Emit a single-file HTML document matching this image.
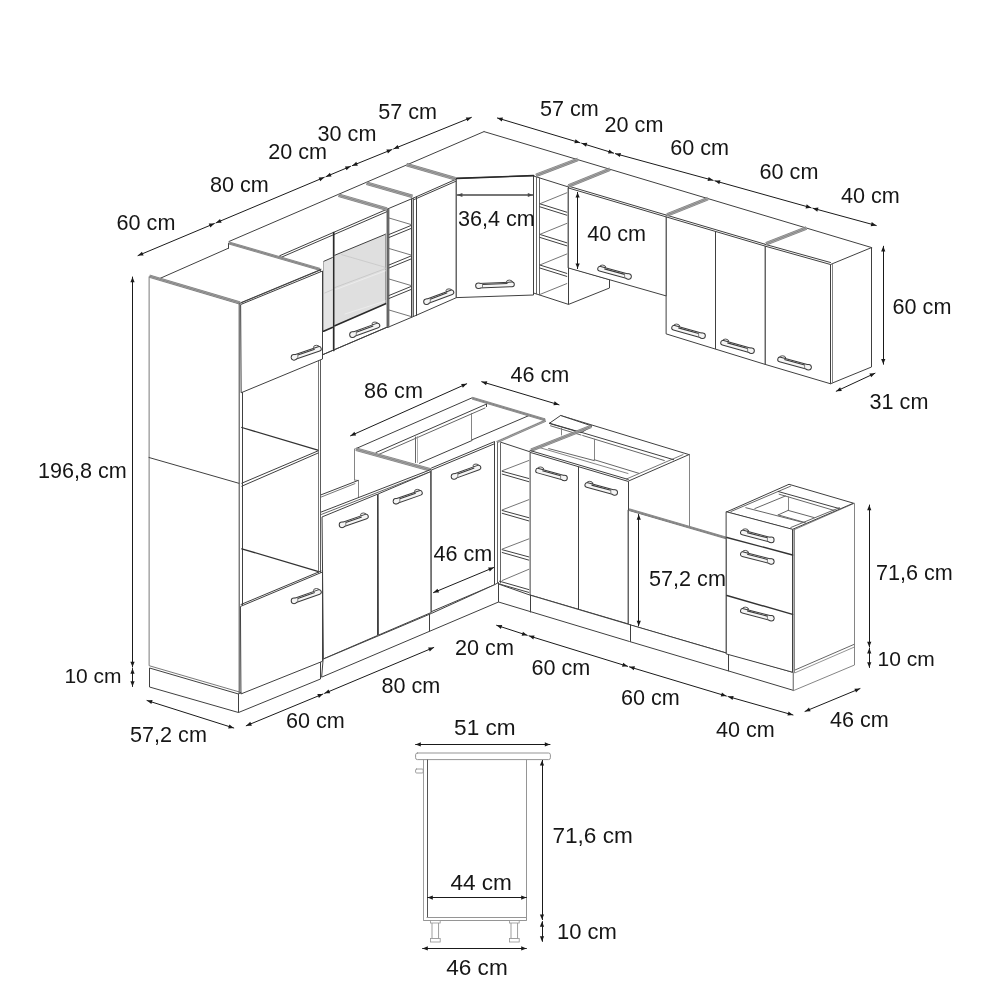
<!DOCTYPE html>
<html lang="en"><head><meta charset="utf-8"><title>Kitchen dimensions</title>
<style>
html,body{margin:0;padding:0;background:#fff;}
body{width:1000px;height:1000px;overflow:hidden;}
svg{display:block;will-change:transform;}
text{font-family:"Liberation Sans",Arial,Helvetica,sans-serif;fill:#161616;}
</style></head><body>
<svg width="1000" height="1000" viewBox="0 0 1000 1000" stroke-linecap="round">
<rect width="1000" height="1000" fill="#ffffff"/>
<line x1="138.00" y1="255.60" x2="214.37" y2="223.55" stroke="#1a1a1a" stroke-width="1.0" />
<path d="M138.00 255.60 L141.98 251.65 L143.61 255.52 Z" fill="#1a1a1a"/>
<path d="M214.37 223.55 L210.39 227.50 L208.76 223.62 Z" fill="#1a1a1a"/>
<line x1="216.03" y1="222.85" x2="324.27" y2="177.35" stroke="#1a1a1a" stroke-width="1.0" />
<path d="M216.03 222.85 L220.01 218.90 L221.64 222.77 Z" fill="#1a1a1a"/>
<path d="M324.27 177.35 L320.29 181.30 L318.66 177.43 Z" fill="#1a1a1a"/>
<line x1="325.93" y1="176.65" x2="350.57" y2="166.35" stroke="#1a1a1a" stroke-width="1.0" />
<path d="M325.93 176.65 L329.92 172.71 L331.54 176.58 Z" fill="#1a1a1a"/>
<path d="M350.57 166.35 L346.58 170.29 L344.96 166.42 Z" fill="#1a1a1a"/>
<line x1="352.23" y1="165.66" x2="391.97" y2="149.54" stroke="#1a1a1a" stroke-width="1.0" />
<path d="M352.23 165.66 L356.26 161.76 L357.84 165.65 Z" fill="#1a1a1a"/>
<path d="M391.97 149.54 L387.94 153.44 L386.36 149.55 Z" fill="#1a1a1a"/>
<line x1="393.63" y1="148.86" x2="471.40" y2="117.40" stroke="#1a1a1a" stroke-width="1.0" />
<path d="M393.63 148.86 L397.67 144.97 L399.24 148.86 Z" fill="#1a1a1a"/>
<path d="M471.40 117.40 L467.37 121.30 L465.79 117.40 Z" fill="#1a1a1a"/>
<line x1="497.40" y1="118.00" x2="579.94" y2="142.74" stroke="#1a1a1a" stroke-width="1.0" />
<path d="M497.40 118.00 L502.98 117.48 L501.78 121.50 Z" fill="#1a1a1a"/>
<path d="M579.94 142.74 L574.35 143.26 L575.56 139.24 Z" fill="#1a1a1a"/>
<line x1="581.66" y1="143.27" x2="613.64" y2="153.13" stroke="#1a1a1a" stroke-width="1.0" />
<path d="M581.66 143.27 L587.25 142.79 L586.01 146.81 Z" fill="#1a1a1a"/>
<path d="M613.64 153.13 L608.05 153.61 L609.29 149.59 Z" fill="#1a1a1a"/>
<line x1="615.37" y1="153.64" x2="713.13" y2="180.36" stroke="#1a1a1a" stroke-width="1.0" />
<path d="M615.37 153.64 L620.94 152.98 L619.83 157.03 Z" fill="#1a1a1a"/>
<path d="M713.13 180.36 L707.56 181.02 L708.67 176.97 Z" fill="#1a1a1a"/>
<line x1="714.87" y1="180.84" x2="811.13" y2="207.76" stroke="#1a1a1a" stroke-width="1.0" />
<path d="M714.87 180.84 L720.44 180.22 L719.31 184.26 Z" fill="#1a1a1a"/>
<path d="M811.13 207.76 L805.56 208.38 L806.69 204.34 Z" fill="#1a1a1a"/>
<line x1="812.87" y1="208.24" x2="876.25" y2="225.50" stroke="#1a1a1a" stroke-width="1.0" />
<path d="M812.87 208.24 L818.44 207.58 L817.33 211.63 Z" fill="#1a1a1a"/>
<path d="M876.25 225.50 L870.68 226.16 L871.78 222.11 Z" fill="#1a1a1a"/>
<line x1="132.50" y1="277.00" x2="132.50" y2="667.00" stroke="#1a1a1a" stroke-width="1.0" />
<path d="M132.50 277.00 L134.60 282.20 L130.40 282.20 Z" fill="#1a1a1a"/>
<path d="M132.50 667.00 L130.40 661.80 L134.60 661.80 Z" fill="#1a1a1a"/>
<line x1="132.50" y1="668.50" x2="132.50" y2="686.50" stroke="#1a1a1a" stroke-width="1.0" />
<path d="M132.50 668.50 L134.60 673.70 L130.40 673.70 Z" fill="#1a1a1a"/>
<path d="M132.50 686.50 L130.40 681.30 L134.60 681.30 Z" fill="#1a1a1a"/>
<line x1="147.00" y1="700.50" x2="233.75" y2="728.00" stroke="#1a1a1a" stroke-width="1.0" />
<path d="M147.00 700.50 L152.59 700.07 L151.32 704.07 Z" fill="#1a1a1a"/>
<path d="M233.75 728.00 L228.16 728.43 L229.43 724.43 Z" fill="#1a1a1a"/>
<line x1="246.25" y1="725.75" x2="322.92" y2="694.04" stroke="#1a1a1a" stroke-width="1.0" />
<path d="M246.25 725.75 L250.25 721.82 L251.86 725.70 Z" fill="#1a1a1a"/>
<path d="M322.92 694.04 L318.92 697.97 L317.31 694.09 Z" fill="#1a1a1a"/>
<line x1="324.58" y1="693.35" x2="433.75" y2="647.50" stroke="#1a1a1a" stroke-width="1.0" />
<path d="M324.58 693.35 L328.56 689.40 L330.19 693.27 Z" fill="#1a1a1a"/>
<path d="M433.75 647.50 L429.77 651.45 L428.14 647.58 Z" fill="#1a1a1a"/>
<line x1="496.60" y1="625.30" x2="527.24" y2="635.32" stroke="#1a1a1a" stroke-width="1.0" />
<path d="M496.60 625.30 L502.20 624.92 L500.89 628.91 Z" fill="#1a1a1a"/>
<path d="M527.24 635.32 L521.65 635.70 L522.95 631.71 Z" fill="#1a1a1a"/>
<line x1="528.96" y1="635.87" x2="627.64" y2="666.33" stroke="#1a1a1a" stroke-width="1.0" />
<path d="M528.96 635.87 L534.55 635.39 L533.31 639.41 Z" fill="#1a1a1a"/>
<path d="M627.64 666.33 L622.05 666.81 L623.29 662.79 Z" fill="#1a1a1a"/>
<line x1="629.36" y1="666.86" x2="726.34" y2="696.04" stroke="#1a1a1a" stroke-width="1.0" />
<path d="M629.36 666.86 L634.95 666.35 L633.74 670.37 Z" fill="#1a1a1a"/>
<path d="M726.34 696.04 L720.75 696.55 L721.96 692.53 Z" fill="#1a1a1a"/>
<line x1="728.07" y1="696.55" x2="793.00" y2="715.00" stroke="#1a1a1a" stroke-width="1.0" />
<path d="M728.07 696.55 L733.64 695.95 L732.49 699.99 Z" fill="#1a1a1a"/>
<path d="M793.00 715.00 L787.42 715.60 L788.57 711.56 Z" fill="#1a1a1a"/>
<line x1="805.00" y1="711.40" x2="860.00" y2="688.60" stroke="#1a1a1a" stroke-width="1.0" />
<path d="M805.00 711.40 L809.00 707.47 L810.61 711.35 Z" fill="#1a1a1a"/>
<path d="M860.00 688.60 L856.00 692.53 L854.39 688.65 Z" fill="#1a1a1a"/>
<line x1="869.50" y1="505.00" x2="869.50" y2="647.00" stroke="#1a1a1a" stroke-width="1.0" />
<path d="M869.25 505.00 L871.35 510.20 L867.15 510.20 Z" fill="#1a1a1a"/>
<path d="M869.25 647.00 L867.15 641.80 L871.35 641.80 Z" fill="#1a1a1a"/>
<line x1="869.50" y1="648.20" x2="869.50" y2="667.50" stroke="#1a1a1a" stroke-width="1.0" />
<path d="M869.25 648.20 L871.35 653.40 L867.15 653.40 Z" fill="#1a1a1a"/>
<path d="M869.25 667.50 L867.15 662.30 L871.35 662.30 Z" fill="#1a1a1a"/>
<line x1="883.50" y1="246.25" x2="883.50" y2="364.25" stroke="#1a1a1a" stroke-width="1.0" />
<path d="M883.25 246.25 L885.35 251.45 L881.15 251.45 Z" fill="#1a1a1a"/>
<path d="M883.25 364.25 L881.15 359.05 L885.35 359.05 Z" fill="#1a1a1a"/>
<line x1="836.25" y1="391.25" x2="875.00" y2="373.25" stroke="#1a1a1a" stroke-width="1.0" />
<path d="M836.25 391.25 L840.08 387.15 L841.85 390.96 Z" fill="#1a1a1a"/>
<path d="M875.00 373.25 L871.17 377.35 L869.40 373.54 Z" fill="#1a1a1a"/>
<line x1="350.50" y1="435.80" x2="466.70" y2="383.80" stroke="#1a1a1a" stroke-width="1.0" />
<path d="M350.50 435.80 L354.39 431.76 L356.10 435.59 Z" fill="#1a1a1a"/>
<path d="M466.70 383.80 L462.81 387.84 L461.10 384.01 Z" fill="#1a1a1a"/>
<line x1="481.70" y1="381.70" x2="559.00" y2="404.80" stroke="#1a1a1a" stroke-width="1.0" />
<path d="M481.70 381.70 L487.28 381.18 L486.08 385.20 Z" fill="#1a1a1a"/>
<path d="M559.00 404.80 L553.42 405.32 L554.62 401.30 Z" fill="#1a1a1a"/>
<path d="M484.00 131.60 L871.75 247.60 L830.50 264.50 L533.60 175.60 Z" fill="#fff" stroke="none" stroke-width="0" stroke-linejoin="round"/>
<line x1="484.00" y1="131.60" x2="871.75" y2="247.60" stroke="#404040" stroke-width="1.0" />
<path d="M830.50 264.50 L871.50 247.60 L871.50 367.00 L830.50 383.75 Z" fill="#fff" stroke="#404040" stroke-width="1.0" stroke-linejoin="round"/>
<path d="M533.50 176.00 L568.50 187.00 L568.50 304.40 L533.50 293.00 Z" fill="#fff" stroke="#404040" stroke-width="1.0" stroke-linejoin="round"/>
<line x1="536.50" y1="177.00" x2="536.50" y2="293.80" stroke="#555" stroke-width="0.9" />
<line x1="539.50" y1="178.00" x2="539.50" y2="294.80" stroke="#555" stroke-width="0.9" />
<line x1="539.80" y1="203.80" x2="566.80" y2="212.20" stroke="#404040" stroke-width="1.0" />
<line x1="539.80" y1="206.80" x2="566.80" y2="215.20" stroke="#404040" stroke-width="1.0" />
<line x1="539.80" y1="203.80" x2="566.80" y2="192.80" stroke="#666" stroke-width="0.9" />
<line x1="539.80" y1="234.40" x2="566.80" y2="242.80" stroke="#404040" stroke-width="1.0" />
<line x1="539.80" y1="237.40" x2="566.80" y2="245.80" stroke="#404040" stroke-width="1.0" />
<line x1="539.80" y1="234.40" x2="566.80" y2="223.40" stroke="#666" stroke-width="0.9" />
<line x1="539.80" y1="265.00" x2="566.80" y2="273.40" stroke="#404040" stroke-width="1.0" />
<line x1="539.80" y1="268.00" x2="566.80" y2="276.40" stroke="#404040" stroke-width="1.0" />
<line x1="539.80" y1="265.00" x2="566.80" y2="254.00" stroke="#666" stroke-width="0.9" />
<line x1="539.80" y1="294.50" x2="566.80" y2="283.60" stroke="#666" stroke-width="0.9" />
<path d="M568.50 268.00 L568.50 304.40 L609.50 288.00 L609.50 280.00 Z" fill="#fff" stroke="#404040" stroke-width="1.0" stroke-linejoin="round"/>
<path d="M568.50 188.00 L666.50 217.00 L666.50 296.00 L568.50 268.00 Z" fill="#fff" stroke="#404040" stroke-width="1.0" stroke-linejoin="round"/>
<line x1="568.00" y1="186.00" x2="666.00" y2="215.00" stroke="#404040" stroke-width="1.0" />
<line x1="577.50" y1="192.40" x2="577.50" y2="268.60" stroke="#1a1a1a" stroke-width="1.0" />
<path d="M577.60 192.40 L579.70 197.60 L575.50 197.60 Z" fill="#1a1a1a"/>
<path d="M577.60 268.60 L575.50 263.40 L579.70 263.40 Z" fill="#1a1a1a"/>
<ellipse cx="602.53" cy="266.95" rx="3" ry="1.9" fill="#f4f4f4" stroke="#444" stroke-width="0.9"/>
<line x1="600.02" y1="268.77" x2="628.48" y2="276.53" stroke="#3c3c3c" stroke-width="5.6" stroke-linecap="round"/>
<circle cx="628.48" cy="276.53" r="3.3" fill="#3c3c3c"/>
<line x1="600.02" y1="268.77" x2="628.48" y2="276.53" stroke="#f5f5f5" stroke-width="3.6" stroke-linecap="round"/>
<circle cx="628.48" cy="276.53" r="2.3" fill="#f5f5f5"/>
<line x1="604.36" y1="268.85" x2="624.62" y2="274.38" stroke="#3a3a3a" stroke-width="1.1" stroke-linecap="butt"/>
<line x1="624.62" y1="273.08" x2="624.62" y2="277.88" stroke="#666" stroke-width="0.8" stroke-linecap="butt"/>
<path d="M666.50 217.00 L765.50 246.20 L765.50 364.50 L666.50 334.00 Z" fill="#fff" stroke="#404040" stroke-width="1.0" stroke-linejoin="round"/>
<line x1="666.00" y1="215.00" x2="765.00" y2="244.20" stroke="#404040" stroke-width="1.0" />
<line x1="715.50" y1="232.00" x2="715.50" y2="348.60" stroke="#404040" stroke-width="1.0" />
<ellipse cx="676.52" cy="325.97" rx="3" ry="1.9" fill="#f4f4f4" stroke="#444" stroke-width="0.9"/>
<line x1="674.02" y1="327.77" x2="702.48" y2="335.73" stroke="#3c3c3c" stroke-width="5.6" stroke-linecap="round"/>
<circle cx="702.48" cy="335.73" r="3.3" fill="#3c3c3c"/>
<line x1="674.02" y1="327.77" x2="702.48" y2="335.73" stroke="#f5f5f5" stroke-width="3.6" stroke-linecap="round"/>
<circle cx="702.48" cy="335.73" r="2.3" fill="#f5f5f5"/>
<line x1="678.35" y1="327.88" x2="698.63" y2="333.56" stroke="#3a3a3a" stroke-width="1.1" stroke-linecap="butt"/>
<line x1="698.63" y1="332.26" x2="698.63" y2="337.06" stroke="#666" stroke-width="0.8" stroke-linecap="butt"/>
<ellipse cx="725.52" cy="340.97" rx="3" ry="1.9" fill="#f4f4f4" stroke="#444" stroke-width="0.9"/>
<line x1="723.02" y1="342.77" x2="751.48" y2="350.73" stroke="#3c3c3c" stroke-width="5.6" stroke-linecap="round"/>
<circle cx="751.48" cy="350.73" r="3.3" fill="#3c3c3c"/>
<line x1="723.02" y1="342.77" x2="751.48" y2="350.73" stroke="#f5f5f5" stroke-width="3.6" stroke-linecap="round"/>
<circle cx="751.48" cy="350.73" r="2.3" fill="#f5f5f5"/>
<line x1="727.35" y1="342.88" x2="747.63" y2="348.56" stroke="#3a3a3a" stroke-width="1.1" stroke-linecap="butt"/>
<line x1="747.63" y1="347.26" x2="747.63" y2="352.06" stroke="#666" stroke-width="0.8" stroke-linecap="butt"/>
<path d="M765.50 246.25 L830.50 264.50 L830.50 383.75 L765.50 364.50 Z" fill="#fff" stroke="#404040" stroke-width="1.0" stroke-linejoin="round"/>
<line x1="765.00" y1="244.30" x2="830.50" y2="262.50" stroke="#404040" stroke-width="1.0" />
<line x1="832.50" y1="264.00" x2="832.50" y2="383.00" stroke="#777" stroke-width="0.9" />
<ellipse cx="782.53" cy="357.65" rx="3" ry="1.9" fill="#f4f4f4" stroke="#444" stroke-width="0.9"/>
<line x1="780.02" y1="359.47" x2="808.48" y2="367.23" stroke="#3c3c3c" stroke-width="5.6" stroke-linecap="round"/>
<circle cx="808.48" cy="367.23" r="3.3" fill="#3c3c3c"/>
<line x1="780.02" y1="359.47" x2="808.48" y2="367.23" stroke="#f5f5f5" stroke-width="3.6" stroke-linecap="round"/>
<circle cx="808.48" cy="367.23" r="2.3" fill="#f5f5f5"/>
<line x1="784.36" y1="359.55" x2="804.62" y2="365.08" stroke="#3a3a3a" stroke-width="1.1" stroke-linecap="butt"/>
<line x1="804.62" y1="363.78" x2="804.62" y2="368.58" stroke="#666" stroke-width="0.8" stroke-linecap="butt"/>
<line x1="536.00" y1="175.40" x2="578.00" y2="159.40" stroke="#b4b4b4" stroke-width="2.72" stroke-linecap="butt"/>
<line x1="535.52" y1="174.13" x2="577.52" y2="158.13" stroke="#777" stroke-width="0.8" stroke-linecap="butt"/>
<line x1="536.00" y1="175.40" x2="578.00" y2="159.40" stroke="#777" stroke-width="0.8" stroke-linecap="butt"/>
<line x1="536.48" y1="176.67" x2="578.48" y2="160.67" stroke="#777" stroke-width="0.8" stroke-linecap="butt"/>
<line x1="568.50" y1="186.00" x2="610.00" y2="169.20" stroke="#b4b4b4" stroke-width="2.72" stroke-linecap="butt"/>
<line x1="567.99" y1="184.74" x2="609.49" y2="167.94" stroke="#777" stroke-width="0.8" stroke-linecap="butt"/>
<line x1="568.50" y1="186.00" x2="610.00" y2="169.20" stroke="#777" stroke-width="0.8" stroke-linecap="butt"/>
<line x1="569.01" y1="187.26" x2="610.51" y2="170.46" stroke="#777" stroke-width="0.8" stroke-linecap="butt"/>
<line x1="667.00" y1="215.00" x2="708.00" y2="198.60" stroke="#b4b4b4" stroke-width="2.72" stroke-linecap="butt"/>
<line x1="666.49" y1="213.74" x2="707.49" y2="197.34" stroke="#777" stroke-width="0.8" stroke-linecap="butt"/>
<line x1="667.00" y1="215.00" x2="708.00" y2="198.60" stroke="#777" stroke-width="0.8" stroke-linecap="butt"/>
<line x1="667.51" y1="216.26" x2="708.51" y2="199.86" stroke="#777" stroke-width="0.8" stroke-linecap="butt"/>
<line x1="766.00" y1="243.80" x2="806.50" y2="228.00" stroke="#b4b4b4" stroke-width="2.72" stroke-linecap="butt"/>
<line x1="765.51" y1="242.53" x2="806.01" y2="226.73" stroke="#777" stroke-width="0.8" stroke-linecap="butt"/>
<line x1="766.00" y1="243.80" x2="806.50" y2="228.00" stroke="#777" stroke-width="0.8" stroke-linecap="butt"/>
<line x1="766.49" y1="245.07" x2="806.99" y2="229.27" stroke="#777" stroke-width="0.8" stroke-linecap="butt"/>
<path d="M229.00 241.50 L484.00 131.60 L456.60 178.40 L280.00 255.60 Z" fill="#fff" stroke="none" stroke-width="0" stroke-linejoin="round"/>
<line x1="229.00" y1="241.50" x2="484.00" y2="131.60" stroke="#404040" stroke-width="1.0" />
<path d="M280.00 255.60 L387.50 209.00 L387.50 327.00 L322.00 355.00 Z" fill="#fff" stroke="#404040" stroke-width="1.0" stroke-linejoin="round"/>
<line x1="281.00" y1="257.40" x2="387.60" y2="211.40" stroke="#404040" stroke-width="1.0" />
<path d="M334.90 255.20 L385.60 234.20 L385.60 303.80 L334.90 325.80 Z" fill="#dfdfdf" stroke="none" stroke-width="0" stroke-linejoin="round"/>
<path d="M323.60 261.40 L332.30 257.60 L332.30 327.20 L323.60 331.00 Z" fill="#e4e4e4" stroke="none" stroke-width="0" stroke-linejoin="round"/>
<line x1="334.90" y1="255.20" x2="385.60" y2="234.20" stroke="#404040" stroke-width="1.0" />
<line x1="323.60" y1="261.40" x2="332.30" y2="257.60" stroke="#404040" stroke-width="1.0" />
<line x1="385.50" y1="234.20" x2="385.50" y2="303.80" stroke="#888" stroke-width="0.8" />
<line x1="323.50" y1="261.40" x2="323.50" y2="331.00" stroke="#999" stroke-width="0.8" />
<line x1="334.90" y1="325.80" x2="385.60" y2="303.80" stroke="#2a2a2a" stroke-width="1.6" />
<line x1="323.60" y1="331.20" x2="332.30" y2="327.40" stroke="#2a2a2a" stroke-width="1.6" />
<line x1="335.00" y1="287.50" x2="385.40" y2="268.60" stroke="#c4c4c4" stroke-width="0.8" />
<line x1="335.00" y1="289.80" x2="385.40" y2="270.80" stroke="#efefef" stroke-width="0.8" />
<line x1="341.50" y1="254.60" x2="385.00" y2="267.20" stroke="#c6c6c6" stroke-width="0.8" />
<line x1="345.00" y1="314.00" x2="385.40" y2="301.00" stroke="#efefef" stroke-width="0.8" />
<line x1="324.80" y1="293.00" x2="332.20" y2="289.80" stroke="#c4c4c4" stroke-width="0.8" />
<line x1="333.70" y1="232.60" x2="333.70" y2="350.40" stroke="#2a2a2a" stroke-width="1.7" />
<line x1="322.00" y1="355.00" x2="387.60" y2="327.00" stroke="#404040" stroke-width="1.0" />
<ellipse cx="375.03" cy="323.92" rx="3" ry="1.9" fill="#f4f4f4" stroke="#444" stroke-width="0.9"/>
<line x1="352.53" y1="334.67" x2="377.47" y2="325.53" stroke="#3c3c3c" stroke-width="5.6" stroke-linecap="round"/>
<circle cx="352.53" cy="334.67" r="3.3" fill="#3c3c3c"/>
<line x1="352.53" y1="334.67" x2="377.47" y2="325.53" stroke="#f5f5f5" stroke-width="3.6" stroke-linecap="round"/>
<circle cx="352.53" cy="334.67" r="2.3" fill="#f5f5f5"/>
<line x1="373.24" y1="325.98" x2="356.29" y2="332.20" stroke="#3a3a3a" stroke-width="1.1" stroke-linecap="butt"/>
<line x1="356.29" y1="330.90" x2="356.29" y2="335.70" stroke="#666" stroke-width="0.8" stroke-linecap="butt"/>
<path d="M387.50 209.00 L413.50 198.00 L413.50 316.50 L387.50 327.50 Z" fill="#fff" stroke="#404040" stroke-width="1.0" stroke-linejoin="round"/>
<line x1="388.60" y1="209.50" x2="388.60" y2="327.00" stroke="#6a6a6a" stroke-width="1.6" />
<line x1="411.50" y1="199.00" x2="411.50" y2="317.00" stroke="#404040" stroke-width="1.0" />
<line x1="389.00" y1="234.50" x2="411.00" y2="225.50" stroke="#404040" stroke-width="1.0" />
<line x1="389.00" y1="237.50" x2="411.00" y2="228.50" stroke="#404040" stroke-width="1.0" />
<line x1="389.00" y1="218.00" x2="411.00" y2="224.50" stroke="#666" stroke-width="0.9" />
<line x1="389.00" y1="265.00" x2="411.00" y2="256.00" stroke="#404040" stroke-width="1.0" />
<line x1="389.00" y1="268.00" x2="411.00" y2="259.00" stroke="#404040" stroke-width="1.0" />
<line x1="389.00" y1="248.50" x2="411.00" y2="255.00" stroke="#666" stroke-width="0.9" />
<line x1="389.00" y1="295.50" x2="411.00" y2="286.50" stroke="#404040" stroke-width="1.0" />
<line x1="389.00" y1="298.50" x2="411.00" y2="289.50" stroke="#404040" stroke-width="1.0" />
<line x1="389.00" y1="279.00" x2="411.00" y2="285.50" stroke="#666" stroke-width="0.9" />
<line x1="389.00" y1="310.00" x2="411.00" y2="316.50" stroke="#666" stroke-width="0.9" />
<path d="M413.50 198.00 L456.50 179.00 L456.50 297.60 L413.50 316.50 Z" fill="#fff" stroke="#404040" stroke-width="1.0" stroke-linejoin="round"/>
<line x1="416.50" y1="197.00" x2="416.50" y2="315.50" stroke="#404040" stroke-width="1.0" />
<line x1="414.00" y1="199.60" x2="456.00" y2="181.20" stroke="#404040" stroke-width="1.0" />
<ellipse cx="449.03" cy="290.74" rx="3" ry="1.9" fill="#f4f4f4" stroke="#444" stroke-width="0.9"/>
<line x1="426.53" y1="301.68" x2="451.47" y2="292.32" stroke="#3c3c3c" stroke-width="5.6" stroke-linecap="round"/>
<circle cx="426.53" cy="301.68" r="3.3" fill="#3c3c3c"/>
<line x1="426.53" y1="301.68" x2="451.47" y2="292.32" stroke="#f5f5f5" stroke-width="3.6" stroke-linecap="round"/>
<circle cx="426.53" cy="301.68" r="2.3" fill="#f5f5f5"/>
<line x1="447.25" y1="292.80" x2="430.28" y2="299.17" stroke="#3a3a3a" stroke-width="1.1" stroke-linecap="butt"/>
<line x1="430.28" y1="297.87" x2="430.28" y2="302.67" stroke="#666" stroke-width="0.8" stroke-linecap="butt"/>
<line x1="338.50" y1="195.20" x2="387.00" y2="209.20" stroke="#b4b4b4" stroke-width="2.72" stroke-linecap="butt"/>
<line x1="338.88" y1="193.89" x2="387.38" y2="207.89" stroke="#777" stroke-width="0.8" stroke-linecap="butt"/>
<line x1="338.50" y1="195.20" x2="387.00" y2="209.20" stroke="#777" stroke-width="0.8" stroke-linecap="butt"/>
<line x1="338.12" y1="196.51" x2="386.62" y2="210.51" stroke="#777" stroke-width="0.8" stroke-linecap="butt"/>
<line x1="366.50" y1="183.20" x2="412.50" y2="196.40" stroke="#b4b4b4" stroke-width="2.72" stroke-linecap="butt"/>
<line x1="366.88" y1="181.89" x2="412.88" y2="195.09" stroke="#777" stroke-width="0.8" stroke-linecap="butt"/>
<line x1="366.50" y1="183.20" x2="412.50" y2="196.40" stroke="#777" stroke-width="0.8" stroke-linecap="butt"/>
<line x1="366.12" y1="184.51" x2="412.12" y2="197.71" stroke="#777" stroke-width="0.8" stroke-linecap="butt"/>
<line x1="406.50" y1="164.60" x2="455.50" y2="178.80" stroke="#b4b4b4" stroke-width="2.72" stroke-linecap="butt"/>
<line x1="406.88" y1="163.29" x2="455.88" y2="177.49" stroke="#777" stroke-width="0.8" stroke-linecap="butt"/>
<line x1="406.50" y1="164.60" x2="455.50" y2="178.80" stroke="#777" stroke-width="0.8" stroke-linecap="butt"/>
<line x1="406.12" y1="165.91" x2="455.12" y2="180.11" stroke="#777" stroke-width="0.8" stroke-linecap="butt"/>
<path d="M456.50 178.40 L533.50 175.60 L533.50 295.00 L456.50 297.60 Z" fill="#fff" stroke="#404040" stroke-width="1.0" stroke-linejoin="round"/>
<line x1="456.60" y1="178.40" x2="533.60" y2="175.60" stroke="#2a2a2a" stroke-width="1.6" />
<line x1="457.20" y1="195.00" x2="533.00" y2="195.00" stroke="#4a4a4a" stroke-width="1.4" />
<path d="M457.20 195.00 L462.40 192.90 L462.40 197.10 Z" fill="#4a4a4a"/>
<path d="M533.00 195.00 L527.80 197.10 L527.80 192.90 Z" fill="#4a4a4a"/>
<ellipse cx="509.40" cy="281.98" rx="3" ry="1.9" fill="#f4f4f4" stroke="#444" stroke-width="0.9"/>
<line x1="478.50" y1="285.72" x2="512.00" y2="284.38" stroke="#3c3c3c" stroke-width="5.6" stroke-linecap="round"/>
<circle cx="478.50" cy="285.72" r="3.3" fill="#3c3c3c"/>
<line x1="478.50" y1="285.72" x2="512.00" y2="284.38" stroke="#f5f5f5" stroke-width="3.6" stroke-linecap="round"/>
<circle cx="478.50" cy="285.72" r="2.3" fill="#f5f5f5"/>
<line x1="507.50" y1="283.46" x2="482.50" y2="284.46" stroke="#3a3a3a" stroke-width="1.1" stroke-linecap="butt"/>
<line x1="482.50" y1="283.16" x2="482.50" y2="287.96" stroke="#666" stroke-width="0.8" stroke-linecap="butt"/>
<path d="M628.60 481.00 L689.00 454.60 L689.00 526.50 L628.60 509.00 Z" fill="#fff" stroke="none" stroke-width="0" stroke-linejoin="round"/>
<line x1="689.50" y1="454.60" x2="689.50" y2="526.50" stroke="#777" stroke-width="0.9" />
<path d="M500.75 442.00 L560.60 415.50 L689.00 454.60 L628.60 481.00 Z" fill="#fff" stroke="none" stroke-width="0" stroke-linejoin="round"/>
<line x1="560.60" y1="415.50" x2="689.00" y2="454.60" stroke="#404040" stroke-width="1.0" />
<line x1="628.60" y1="481.00" x2="689.00" y2="454.60" stroke="#404040" stroke-width="1.0" />
<line x1="626.50" y1="479.00" x2="683.00" y2="454.60" stroke="#777" stroke-width="1.0" />
<path d="M549.50 423.20 L560.60 415.50 L592.00 426.00 L581.50 432.50 Z" fill="#fff" stroke="#404040" stroke-width="1.0" stroke-linejoin="round"/>
<line x1="549.50" y1="423.20" x2="581.50" y2="432.50" stroke="#404040" stroke-width="1.0" />
<line x1="550.50" y1="425.80" x2="581.00" y2="435.00" stroke="#666" stroke-width="1.0" />
<line x1="561.50" y1="428.30" x2="561.50" y2="435.00" stroke="#777" stroke-width="0.9" />
<line x1="581.85" y1="432.50" x2="673.65" y2="459.70" stroke="#404040" stroke-width="1.0" />
<line x1="582.70" y1="435.50" x2="664.30" y2="460.50" stroke="#666" stroke-width="1.0" />
<line x1="594.50" y1="439.30" x2="594.50" y2="459.70" stroke="#777" stroke-width="0.9" />
<line x1="594.25" y1="459.70" x2="638.80" y2="473.30" stroke="#666" stroke-width="1.0" />
<line x1="548.70" y1="448.60" x2="594.25" y2="460.60" stroke="#666" stroke-width="1.0" />
<line x1="537.50" y1="447.00" x2="628.00" y2="473.50" stroke="#777" stroke-width="0.9" />
<line x1="496.50" y1="441.60" x2="545.50" y2="420.00" stroke="#b4b4b4" stroke-width="2.72" stroke-linecap="butt"/>
<line x1="495.95" y1="440.36" x2="544.95" y2="418.76" stroke="#777" stroke-width="0.8" stroke-linecap="butt"/>
<line x1="496.50" y1="441.60" x2="545.50" y2="420.00" stroke="#777" stroke-width="0.8" stroke-linecap="butt"/>
<line x1="497.05" y1="442.84" x2="546.05" y2="421.24" stroke="#777" stroke-width="0.8" stroke-linecap="butt"/>
<line x1="531.00" y1="450.20" x2="591.20" y2="426.40" stroke="#b4b4b4" stroke-width="2.56" stroke-linecap="butt"/>
<line x1="530.53" y1="449.01" x2="590.73" y2="425.21" stroke="#777" stroke-width="0.8" stroke-linecap="butt"/>
<line x1="531.00" y1="450.20" x2="591.20" y2="426.40" stroke="#777" stroke-width="0.8" stroke-linecap="butt"/>
<line x1="531.47" y1="451.39" x2="591.67" y2="427.59" stroke="#777" stroke-width="0.8" stroke-linecap="butt"/>
<path d="M494.75 442.00 L530.00 452.50 L530.00 593.50 L494.75 582.50 Z" fill="#fff" stroke="none" stroke-width="0" stroke-linejoin="round"/>
<line x1="494.50" y1="442.00" x2="494.50" y2="582.50" stroke="#404040" stroke-width="1.0" />
<line x1="497.50" y1="442.50" x2="497.50" y2="583.00" stroke="#666" stroke-width="1.0" />
<line x1="500.50" y1="443.00" x2="500.50" y2="583.00" stroke="#666" stroke-width="1.0" />
<line x1="500.75" y1="442.20" x2="530.00" y2="451.80" stroke="#404040" stroke-width="1.0" />
<line x1="502.20" y1="471.30" x2="528.80" y2="478.50" stroke="#404040" stroke-width="1.0" />
<line x1="502.20" y1="474.10" x2="528.80" y2="481.70" stroke="#404040" stroke-width="1.0" />
<line x1="502.20" y1="470.70" x2="528.80" y2="460.50" stroke="#666" stroke-width="0.9" />
<line x1="502.20" y1="510.50" x2="528.80" y2="517.70" stroke="#404040" stroke-width="1.0" />
<line x1="502.20" y1="513.30" x2="528.80" y2="520.90" stroke="#404040" stroke-width="1.0" />
<line x1="502.20" y1="509.90" x2="528.80" y2="499.70" stroke="#666" stroke-width="0.9" />
<line x1="502.20" y1="549.70" x2="528.80" y2="556.90" stroke="#404040" stroke-width="1.0" />
<line x1="502.20" y1="552.50" x2="528.80" y2="560.10" stroke="#404040" stroke-width="1.0" />
<line x1="502.20" y1="549.10" x2="528.80" y2="538.90" stroke="#666" stroke-width="0.9" />
<line x1="502.20" y1="580.50" x2="528.80" y2="569.30" stroke="#666" stroke-width="0.9" />
<line x1="499.40" y1="581.20" x2="528.80" y2="589.60" stroke="#404040" stroke-width="1.0" />
<line x1="499.40" y1="584.00" x2="528.80" y2="592.40" stroke="#404040" stroke-width="1.0" />
<path d="M530.50 452.50 L628.50 481.50 L628.50 624.00 L530.50 595.10 Z" fill="#fff" stroke="#404040" stroke-width="1.0" stroke-linejoin="round"/>
<line x1="530.00" y1="450.50" x2="628.30" y2="479.50" stroke="#404040" stroke-width="1.0" />
<line x1="578.50" y1="467.20" x2="578.50" y2="609.40" stroke="#404040" stroke-width="1.0" />
<ellipse cx="540.53" cy="468.86" rx="3" ry="1.9" fill="#f4f4f4" stroke="#444" stroke-width="0.9"/>
<line x1="538.02" y1="470.67" x2="564.48" y2="477.93" stroke="#3c3c3c" stroke-width="5.6" stroke-linecap="round"/>
<circle cx="564.48" cy="477.93" r="3.3" fill="#3c3c3c"/>
<line x1="538.02" y1="470.67" x2="564.48" y2="477.93" stroke="#f5f5f5" stroke-width="3.6" stroke-linecap="round"/>
<circle cx="564.48" cy="477.93" r="2.3" fill="#f5f5f5"/>
<line x1="542.36" y1="470.76" x2="560.62" y2="475.77" stroke="#3a3a3a" stroke-width="1.1" stroke-linecap="butt"/>
<line x1="560.62" y1="474.47" x2="560.62" y2="479.27" stroke="#666" stroke-width="0.8" stroke-linecap="butt"/>
<ellipse cx="589.73" cy="483.24" rx="3" ry="1.9" fill="#f4f4f4" stroke="#444" stroke-width="0.9"/>
<line x1="587.22" y1="485.07" x2="614.68" y2="492.43" stroke="#3c3c3c" stroke-width="5.6" stroke-linecap="round"/>
<circle cx="614.68" cy="492.43" r="3.3" fill="#3c3c3c"/>
<line x1="587.22" y1="485.07" x2="614.68" y2="492.43" stroke="#f5f5f5" stroke-width="3.6" stroke-linecap="round"/>
<circle cx="614.68" cy="492.43" r="2.3" fill="#f5f5f5"/>
<line x1="591.56" y1="485.14" x2="610.82" y2="490.29" stroke="#3a3a3a" stroke-width="1.1" stroke-linecap="butt"/>
<line x1="610.82" y1="488.99" x2="610.82" y2="493.79" stroke="#666" stroke-width="0.8" stroke-linecap="butt"/>
<path d="M628.50 510.00 L726.50 538.20 L726.50 653.00 L628.50 624.50 Z" fill="#fff" stroke="#404040" stroke-width="1.0" stroke-linejoin="round"/>
<line x1="629.00" y1="509.60" x2="727.00" y2="538.20" stroke="#b4b4b4" stroke-width="1.76" stroke-linecap="butt"/>
<line x1="629.25" y1="508.76" x2="727.25" y2="537.36" stroke="#777" stroke-width="0.8" stroke-linecap="butt"/>
<line x1="629.00" y1="509.60" x2="727.00" y2="538.20" stroke="#777" stroke-width="0.8" stroke-linecap="butt"/>
<line x1="628.75" y1="510.44" x2="726.75" y2="539.04" stroke="#777" stroke-width="0.8" stroke-linecap="butt"/>
<line x1="638.50" y1="514.50" x2="638.50" y2="626.00" stroke="#1a1a1a" stroke-width="1.0" />
<path d="M638.75 514.50 L640.85 519.70 L636.65 519.70 Z" fill="#1a1a1a"/>
<path d="M638.75 626.00 L636.65 620.80 L640.85 620.80 Z" fill="#1a1a1a"/>
<path d="M498.50 584.00 L530.00 595.10 L628.75 624.40 L726.25 653.00 L793.50 672.50 L793.50 690.40 L728.00 670.80 L629.50 641.50 L498.50 602.00 Z" fill="#fff" stroke="#404040" stroke-width="1.0" stroke-linejoin="round"/>
<line x1="530.50" y1="595.30" x2="530.50" y2="612.00" stroke="#404040" stroke-width="1.0" />
<line x1="630.50" y1="624.80" x2="630.50" y2="641.50" stroke="#404040" stroke-width="1.0" />
<line x1="728.50" y1="654.50" x2="728.50" y2="670.80" stroke="#404040" stroke-width="1.0" />
<path d="M793.50 530.00 L854.50 503.20 L854.50 665.00 L793.50 690.60 Z" fill="#fff" stroke="#777" stroke-width="0.9" stroke-linejoin="round"/>
<line x1="795.00" y1="670.00" x2="854.00" y2="644.40" stroke="#666" stroke-width="1.0" />
<line x1="795.00" y1="672.80" x2="854.00" y2="647.20" stroke="#888" stroke-width="0.9" />
<path d="M726.90 511.80 L789.00 484.30 L853.50 503.20 L792.60 529.30 Z" fill="#fff" stroke="#404040" stroke-width="1.0" stroke-linejoin="round"/>
<line x1="731.00" y1="511.50" x2="790.80" y2="486.10" stroke="#666" stroke-width="1.0" />
<line x1="778.20" y1="491.50" x2="839.40" y2="508.60" stroke="#404040" stroke-width="1.0" />
<line x1="779.10" y1="494.20" x2="834.00" y2="510.40" stroke="#666" stroke-width="1.0" />
<line x1="754.80" y1="508.60" x2="785.40" y2="496.00" stroke="#666" stroke-width="1.0" />
<line x1="788.50" y1="496.90" x2="788.50" y2="510.40" stroke="#777" stroke-width="0.9" />
<line x1="788.10" y1="510.40" x2="814.20" y2="517.60" stroke="#666" stroke-width="1.0" />
<line x1="778.20" y1="514.90" x2="788.10" y2="510.40" stroke="#666" stroke-width="1.0" />
<line x1="778.20" y1="514.90" x2="805.20" y2="522.60" stroke="#666" stroke-width="1.0" />
<line x1="745.80" y1="507.70" x2="805.20" y2="523.00" stroke="#666" stroke-width="1.0" />
<line x1="790.80" y1="527.50" x2="839.40" y2="507.70" stroke="#666" stroke-width="1.0" />
<path d="M726.50 511.80 L792.50 529.30 L792.50 672.20 L726.50 654.00 Z" fill="#fff" stroke="#404040" stroke-width="1.0" stroke-linejoin="round"/>
<line x1="794.50" y1="529.80" x2="794.50" y2="672.50" stroke="#777" stroke-width="0.9" />
<line x1="726.90" y1="537.50" x2="792.60" y2="555.00" stroke="#333" stroke-width="1.4" />
<line x1="726.90" y1="595.50" x2="792.60" y2="614.40" stroke="#333" stroke-width="1.4" />
<ellipse cx="745.33" cy="530.72" rx="3" ry="1.9" fill="#f4f4f4" stroke="#444" stroke-width="0.9"/>
<line x1="742.82" y1="532.58" x2="771.28" y2="539.92" stroke="#3c3c3c" stroke-width="5.6" stroke-linecap="round"/>
<circle cx="771.28" cy="539.92" r="3.3" fill="#3c3c3c"/>
<line x1="742.82" y1="532.58" x2="771.28" y2="539.92" stroke="#f5f5f5" stroke-width="3.6" stroke-linecap="round"/>
<circle cx="771.28" cy="539.92" r="2.3" fill="#f5f5f5"/>
<line x1="747.17" y1="532.60" x2="767.41" y2="537.83" stroke="#3a3a3a" stroke-width="1.1" stroke-linecap="butt"/>
<line x1="767.41" y1="536.53" x2="767.41" y2="541.33" stroke="#666" stroke-width="0.8" stroke-linecap="butt"/>
<ellipse cx="745.33" cy="552.32" rx="3" ry="1.9" fill="#f4f4f4" stroke="#444" stroke-width="0.9"/>
<line x1="742.82" y1="554.18" x2="771.28" y2="561.52" stroke="#3c3c3c" stroke-width="5.6" stroke-linecap="round"/>
<circle cx="771.28" cy="561.52" r="3.3" fill="#3c3c3c"/>
<line x1="742.82" y1="554.18" x2="771.28" y2="561.52" stroke="#f5f5f5" stroke-width="3.6" stroke-linecap="round"/>
<circle cx="771.28" cy="561.52" r="2.3" fill="#f5f5f5"/>
<line x1="747.17" y1="554.20" x2="767.41" y2="559.43" stroke="#3a3a3a" stroke-width="1.1" stroke-linecap="butt"/>
<line x1="767.41" y1="558.13" x2="767.41" y2="562.93" stroke="#666" stroke-width="0.8" stroke-linecap="butt"/>
<ellipse cx="745.33" cy="609.02" rx="3" ry="1.9" fill="#f4f4f4" stroke="#444" stroke-width="0.9"/>
<line x1="742.82" y1="610.88" x2="771.28" y2="618.22" stroke="#3c3c3c" stroke-width="5.6" stroke-linecap="round"/>
<circle cx="771.28" cy="618.22" r="3.3" fill="#3c3c3c"/>
<line x1="742.82" y1="610.88" x2="771.28" y2="618.22" stroke="#f5f5f5" stroke-width="3.6" stroke-linecap="round"/>
<circle cx="771.28" cy="618.22" r="2.3" fill="#f5f5f5"/>
<line x1="747.17" y1="610.90" x2="767.41" y2="616.13" stroke="#3a3a3a" stroke-width="1.1" stroke-linecap="butt"/>
<line x1="767.41" y1="614.83" x2="767.41" y2="619.63" stroke="#666" stroke-width="0.8" stroke-linecap="butt"/>
<path d="M354.70 449.00 L430.75 470.00 L430.75 471.50 L322.00 517.00 L321.25 494.75 L354.70 481.50 Z" fill="#fff" stroke="none" stroke-width="0" stroke-linejoin="round"/>
<line x1="354.50" y1="449.00" x2="354.50" y2="480.00" stroke="#777" stroke-width="0.9" />
<line x1="354.70" y1="480.00" x2="358.00" y2="480.50" stroke="#777" stroke-width="0.9" />
<line x1="358.50" y1="480.50" x2="358.50" y2="497.50" stroke="#777" stroke-width="0.9" />
<line x1="321.25" y1="494.75" x2="358.00" y2="480.50" stroke="#404040" stroke-width="1.0" />
<line x1="321.25" y1="497.00" x2="355.00" y2="483.60" stroke="#777" stroke-width="1.0" />
<path d="M354.70 449.00 L472.25 397.75 L545.00 419.50 L494.00 442.00 L431.00 470.00 Z" fill="#fff" stroke="none" stroke-width="0" stroke-linejoin="round"/>
<line x1="355.75" y1="448.70" x2="472.25" y2="397.75" stroke="#404040" stroke-width="1.0" />
<line x1="376.00" y1="452.50" x2="485.50" y2="404.50" stroke="#404040" stroke-width="1.0" />
<line x1="377.50" y1="455.00" x2="485.00" y2="408.00" stroke="#666" stroke-width="1.0" />
<line x1="486.50" y1="403.75" x2="486.50" y2="406.60" stroke="#404040" stroke-width="1.0" />
<line x1="415.50" y1="437.00" x2="415.50" y2="462.50" stroke="#666" stroke-width="1.0" />
<line x1="417.50" y1="436.50" x2="417.50" y2="462.50" stroke="#999" stroke-width="0.8" />
<line x1="419.50" y1="463.25" x2="472.00" y2="440.50" stroke="#404040" stroke-width="1.0" />
<line x1="471.50" y1="413.50" x2="471.50" y2="439.75" stroke="#777" stroke-width="0.9" />
<line x1="472.25" y1="439.75" x2="528.50" y2="415.75" stroke="#404040" stroke-width="1.0" />
<line x1="356.00" y1="449.20" x2="430.75" y2="470.00" stroke="#b4b4b4" stroke-width="2.72" stroke-linecap="butt"/>
<line x1="356.36" y1="447.89" x2="431.11" y2="468.69" stroke="#777" stroke-width="0.8" stroke-linecap="butt"/>
<line x1="356.00" y1="449.20" x2="430.75" y2="470.00" stroke="#777" stroke-width="0.8" stroke-linecap="butt"/>
<line x1="355.64" y1="450.51" x2="430.39" y2="471.31" stroke="#777" stroke-width="0.8" stroke-linecap="butt"/>
<line x1="472.25" y1="398.20" x2="545.00" y2="419.80" stroke="#b4b4b4" stroke-width="1.92" stroke-linecap="butt"/>
<line x1="472.52" y1="397.28" x2="545.27" y2="418.88" stroke="#777" stroke-width="0.8" stroke-linecap="butt"/>
<line x1="472.25" y1="398.20" x2="545.00" y2="419.80" stroke="#777" stroke-width="0.8" stroke-linecap="butt"/>
<line x1="471.98" y1="399.12" x2="544.73" y2="420.72" stroke="#777" stroke-width="0.8" stroke-linecap="butt"/>
<path d="M322.00 512.00 L430.75 469.60 L430.75 613.00 L322.00 658.60 Z" fill="#fff" stroke="none" stroke-width="0" stroke-linejoin="round"/>
<line x1="321.25" y1="512.00" x2="430.75" y2="469.60" stroke="#404040" stroke-width="1.0" />
<line x1="321.50" y1="514.40" x2="430.75" y2="471.60" stroke="#666" stroke-width="1.0" />
<path d="M322.40 516.80 L377.50 494.20 L377.50 635.50 L323.75 658.75 Z" fill="#fff" stroke="#404040" stroke-width="1.0" stroke-linejoin="round"/>
<path d="M378.50 493.80 L430.75 471.60 L431.25 612.50 L378.75 635.00 Z" fill="#fff" stroke="#404040" stroke-width="1.0" stroke-linejoin="round"/>
<ellipse cx="363.52" cy="514.89" rx="3" ry="1.9" fill="#f4f4f4" stroke="#444" stroke-width="0.9"/>
<line x1="342.03" y1="524.86" x2="365.97" y2="516.54" stroke="#3c3c3c" stroke-width="5.6" stroke-linecap="round"/>
<circle cx="342.03" cy="524.86" r="3.3" fill="#3c3c3c"/>
<line x1="342.03" y1="524.86" x2="365.97" y2="516.54" stroke="#f5f5f5" stroke-width="3.6" stroke-linecap="round"/>
<circle cx="342.03" cy="524.86" r="2.3" fill="#f5f5f5"/>
<line x1="361.72" y1="516.91" x2="345.81" y2="522.45" stroke="#3a3a3a" stroke-width="1.1" stroke-linecap="butt"/>
<line x1="345.81" y1="521.15" x2="345.81" y2="525.95" stroke="#666" stroke-width="0.8" stroke-linecap="butt"/>
<ellipse cx="417.52" cy="491.29" rx="3" ry="1.9" fill="#f4f4f4" stroke="#444" stroke-width="0.9"/>
<line x1="396.03" y1="501.26" x2="419.97" y2="492.94" stroke="#3c3c3c" stroke-width="5.6" stroke-linecap="round"/>
<circle cx="396.03" cy="501.26" r="3.3" fill="#3c3c3c"/>
<line x1="396.03" y1="501.26" x2="419.97" y2="492.94" stroke="#f5f5f5" stroke-width="3.6" stroke-linecap="round"/>
<circle cx="396.03" cy="501.26" r="2.3" fill="#f5f5f5"/>
<line x1="415.72" y1="493.31" x2="399.81" y2="498.85" stroke="#3a3a3a" stroke-width="1.1" stroke-linecap="butt"/>
<line x1="399.81" y1="497.55" x2="399.81" y2="502.35" stroke="#666" stroke-width="0.8" stroke-linecap="butt"/>
<path d="M431.50 470.00 L494.50 443.75 L494.50 584.80 L431.50 611.60 Z" fill="#fff" stroke="#404040" stroke-width="1.0" stroke-linejoin="round"/>
<line x1="431.50" y1="468.00" x2="494.50" y2="441.60" stroke="#404040" stroke-width="1.0" />
<ellipse cx="476.03" cy="465.92" rx="3" ry="1.9" fill="#f4f4f4" stroke="#444" stroke-width="0.9"/>
<line x1="454.03" y1="476.47" x2="478.47" y2="467.53" stroke="#3c3c3c" stroke-width="5.6" stroke-linecap="round"/>
<circle cx="454.03" cy="476.47" r="3.3" fill="#3c3c3c"/>
<line x1="454.03" y1="476.47" x2="478.47" y2="467.53" stroke="#f5f5f5" stroke-width="3.6" stroke-linecap="round"/>
<circle cx="454.03" cy="476.47" r="2.3" fill="#f5f5f5"/>
<line x1="474.24" y1="467.97" x2="457.79" y2="474.00" stroke="#3a3a3a" stroke-width="1.1" stroke-linecap="butt"/>
<line x1="457.79" y1="472.70" x2="457.79" y2="477.50" stroke="#666" stroke-width="0.8" stroke-linecap="butt"/>
<line x1="433.50" y1="592.60" x2="493.75" y2="567.50" stroke="#1a1a1a" stroke-width="1.0" />
<path d="M433.50 592.60 L437.49 588.66 L439.11 592.54 Z" fill="#1a1a1a"/>
<path d="M493.75 567.50 L489.76 571.44 L488.14 567.56 Z" fill="#1a1a1a"/>
<path d="M323.50 659.00 L431.25 613.50 L495.00 584.50 L498.50 582.50 L498.50 602.00 L322.00 677.00 Z" fill="#fff" stroke="#404040" stroke-width="1.0" stroke-linejoin="round"/>
<line x1="429.50" y1="614.50" x2="429.50" y2="631.00" stroke="#404040" stroke-width="1.0" />
<path d="M149.50 276.60 L239.50 303.60 L239.50 692.00 L149.50 665.80 Z" fill="#fff" stroke="#6a6a6a" stroke-width="0.9" stroke-linejoin="round"/>
<line x1="149.00" y1="457.50" x2="239.60" y2="483.50" stroke="#404040" stroke-width="1.0" />
<path d="M149.00 276.60 L160.00 278.40 L228.00 248.40 L228.00 243.20 L321.50 269.50 L239.60 303.60 Z" fill="#fff" stroke="none" stroke-width="0" stroke-linejoin="round"/>
<line x1="160.00" y1="278.40" x2="228.00" y2="248.40" stroke="#404040" stroke-width="1.0" />
<line x1="228.50" y1="243.20" x2="228.50" y2="248.40" stroke="#404040" stroke-width="1.0" />
<line x1="229.00" y1="243.00" x2="320.00" y2="269.40" stroke="#b4b4b4" stroke-width="2.08" stroke-linecap="butt"/>
<line x1="229.29" y1="242.00" x2="320.29" y2="268.40" stroke="#777" stroke-width="0.8" stroke-linecap="butt"/>
<line x1="229.00" y1="243.00" x2="320.00" y2="269.40" stroke="#777" stroke-width="0.8" stroke-linecap="butt"/>
<line x1="228.71" y1="244.00" x2="319.71" y2="270.40" stroke="#777" stroke-width="0.8" stroke-linecap="butt"/>
<line x1="149.50" y1="276.20" x2="240.00" y2="303.00" stroke="#b4b4b4" stroke-width="2.40" stroke-linecap="butt"/>
<line x1="149.84" y1="275.05" x2="240.34" y2="301.85" stroke="#777" stroke-width="0.8" stroke-linecap="butt"/>
<line x1="149.50" y1="276.20" x2="240.00" y2="303.00" stroke="#777" stroke-width="0.8" stroke-linecap="butt"/>
<line x1="149.16" y1="277.35" x2="239.66" y2="304.15" stroke="#777" stroke-width="0.8" stroke-linecap="butt"/>
<path d="M149.50 668.40 L149.50 687.00 L238.50 712.50 L238.50 694.40 Z" fill="#fff" stroke="#404040" stroke-width="1.0" stroke-linejoin="round"/>
<path d="M238.50 694.00 L238.50 712.50 L320.50 679.00 L320.50 661.00 Z" fill="#fff" stroke="#404040" stroke-width="1.0" stroke-linejoin="round"/>
<path d="M239.50 303.60 L320.50 270.00 L320.50 661.00 L239.50 693.00 Z" fill="#fff" stroke="#4a4a4a" stroke-width="0.9" stroke-linejoin="round"/>
<line x1="242.50" y1="304.00" x2="242.50" y2="693.00" stroke="#404040" stroke-width="1.0" />
<line x1="318.50" y1="358.00" x2="318.50" y2="573.00" stroke="#555" stroke-width="0.8" />
<line x1="241.80" y1="427.50" x2="317.80" y2="450.20" stroke="#333" stroke-width="1.3" />
<line x1="241.80" y1="483.20" x2="318.20" y2="450.80" stroke="#404040" stroke-width="1.0" />
<line x1="241.80" y1="486.20" x2="318.20" y2="453.00" stroke="#404040" stroke-width="1.0" />
<line x1="241.80" y1="548.80" x2="317.80" y2="571.40" stroke="#333" stroke-width="1.3" />
<path d="M241.00 304.40 L322.50 271.00 L322.50 359.00 L241.50 392.60 Z" fill="#fff" stroke="#404040" stroke-width="1.0" stroke-linejoin="round"/>
<line x1="241.00" y1="302.60" x2="321.00" y2="269.40" stroke="#404040" stroke-width="1.0" />
<path d="M240.80 606.30 L322.50 572.00 L322.50 661.30 L241.30 693.80 Z" fill="#fff" stroke="#404040" stroke-width="1.0" stroke-linejoin="round"/>
<line x1="241.00" y1="604.50" x2="321.00" y2="571.00" stroke="#404040" stroke-width="1.0" />
<ellipse cx="316.51" cy="347.18" rx="3" ry="1.9" fill="#f4f4f4" stroke="#444" stroke-width="0.9"/>
<line x1="294.03" y1="357.36" x2="318.97" y2="348.84" stroke="#3c3c3c" stroke-width="5.6" stroke-linecap="round"/>
<circle cx="294.03" cy="357.36" r="3.3" fill="#3c3c3c"/>
<line x1="294.03" y1="357.36" x2="318.97" y2="348.84" stroke="#f5f5f5" stroke-width="3.6" stroke-linecap="round"/>
<circle cx="294.03" cy="357.36" r="2.3" fill="#f5f5f5"/>
<line x1="314.71" y1="349.19" x2="297.81" y2="354.97" stroke="#3a3a3a" stroke-width="1.1" stroke-linecap="butt"/>
<line x1="297.81" y1="353.67" x2="297.81" y2="358.47" stroke="#666" stroke-width="0.8" stroke-linecap="butt"/>
<ellipse cx="316.52" cy="590.40" rx="3" ry="1.9" fill="#f4f4f4" stroke="#444" stroke-width="0.9"/>
<line x1="294.03" y1="600.87" x2="318.97" y2="592.03" stroke="#3c3c3c" stroke-width="5.6" stroke-linecap="round"/>
<circle cx="294.03" cy="600.87" r="3.3" fill="#3c3c3c"/>
<line x1="294.03" y1="600.87" x2="318.97" y2="592.03" stroke="#f5f5f5" stroke-width="3.6" stroke-linecap="round"/>
<circle cx="294.03" cy="600.87" r="2.3" fill="#f5f5f5"/>
<line x1="314.73" y1="592.44" x2="297.80" y2="598.43" stroke="#3a3a3a" stroke-width="1.1" stroke-linecap="butt"/>
<line x1="297.80" y1="597.13" x2="297.80" y2="601.93" stroke="#666" stroke-width="0.8" stroke-linecap="butt"/>
<rect x="415.6" y="753" width="134.8" height="6.6" rx="1.8" ry="1.8" fill="#fff" stroke="#959595" stroke-width="1"/>
<rect x="415.6" y="769" width="7.6" height="4" rx="1" fill="#fff" stroke="#959595" stroke-width="0.9"/>
<line x1="423.50" y1="760.00" x2="423.50" y2="920.00" stroke="#959595" stroke-width="0.9" />
<line x1="427.50" y1="760.00" x2="427.50" y2="917.00" stroke="#555" stroke-width="1" />
<line x1="526.50" y1="760.00" x2="526.50" y2="917.00" stroke="#959595" stroke-width="1" />
<line x1="427.00" y1="917.50" x2="526.40" y2="917.50" stroke="#959595" stroke-width="1" />
<line x1="423.60" y1="920.50" x2="526.40" y2="920.50" stroke="#959595" stroke-width="1" />
<line x1="526.50" y1="917.00" x2="526.50" y2="920.00" stroke="#959595" stroke-width="1" />
<rect x="432.0" y="920.6" width="6.6" height="18" fill="#fff" stroke="#959595" stroke-width="0.9"/>
<rect x="430.4" y="920.6" width="9.8" height="2.4" fill="#fff" stroke="#959595" stroke-width="0.8"/>
<rect x="430.4" y="938.6" width="9.8" height="3.4" fill="#fff" stroke="#959595" stroke-width="0.8"/>
<rect x="511.0" y="920.6" width="6.6" height="18" fill="#fff" stroke="#959595" stroke-width="0.9"/>
<rect x="509.4" y="920.6" width="9.8" height="2.4" fill="#fff" stroke="#959595" stroke-width="0.8"/>
<rect x="509.4" y="938.6" width="9.8" height="3.4" fill="#fff" stroke="#959595" stroke-width="0.8"/>
<line x1="415.60" y1="744.50" x2="550.00" y2="744.50" stroke="#1a1a1a" stroke-width="1.0" />
<path d="M415.60 744.40 L420.80 742.30 L420.80 746.50 Z" fill="#1a1a1a"/>
<path d="M550.00 744.40 L544.80 746.50 L544.80 742.30 Z" fill="#1a1a1a"/>
<line x1="427.60" y1="897.50" x2="526.40" y2="897.50" stroke="#1a1a1a" stroke-width="1.0" />
<path d="M427.60 897.60 L432.80 895.50 L432.80 899.70 Z" fill="#1a1a1a"/>
<path d="M526.40 897.60 L521.20 899.70 L521.20 895.50 Z" fill="#1a1a1a"/>
<line x1="542.50" y1="760.40" x2="542.50" y2="919.60" stroke="#1a1a1a" stroke-width="1.0" />
<path d="M542.00 760.40 L544.10 765.60 L539.90 765.60 Z" fill="#1a1a1a"/>
<path d="M542.00 919.60 L539.90 914.40 L544.10 914.40 Z" fill="#1a1a1a"/>
<line x1="542.50" y1="921.60" x2="542.50" y2="941.40" stroke="#1a1a1a" stroke-width="1.0" />
<path d="M542.00 921.60 L544.10 926.80 L539.90 926.80 Z" fill="#1a1a1a"/>
<path d="M542.00 941.40 L539.90 936.20 L544.10 936.20 Z" fill="#1a1a1a"/>
<line x1="422.60" y1="948.50" x2="526.40" y2="948.50" stroke="#1a1a1a" stroke-width="1.0" />
<path d="M422.60 948.40 L427.80 946.30 L427.80 950.50 Z" fill="#1a1a1a"/>
<path d="M526.40 948.40 L521.20 950.50 L521.20 946.30 Z" fill="#1a1a1a"/>
<text x="116.60" y="229.60" font-size="21.6">60 cm</text>
<text x="210.00" y="191.60" font-size="21.6">80 cm</text>
<text x="268.20" y="158.60" font-size="21.6">20 cm</text>
<text x="317.60" y="141.40" font-size="21.6">30 cm</text>
<text x="378.20" y="119.40" font-size="21.6">57 cm</text>
<text x="540.00" y="115.60" font-size="21.6">57 cm</text>
<text x="604.60" y="132.40" font-size="21.6">20 cm</text>
<text x="670.20" y="155.00" font-size="21.6">60 cm</text>
<text x="759.60" y="178.60" font-size="21.6">60 cm</text>
<text x="841.00" y="202.50" font-size="21.6">40 cm</text>
<text x="892.60" y="313.75" font-size="21.6">60 cm</text>
<text x="869.60" y="408.60" font-size="21.6">31 cm</text>
<text x="458.00" y="225.60" font-size="21.6">36,4 cm</text>
<text x="587.20" y="240.60" font-size="21.6">40 cm</text>
<text x="38.00" y="478.00" font-size="21.6">196,8 cm</text>
<text x="64.40" y="683.00" font-size="21.0">10 cm</text>
<text x="130.10" y="742.00" font-size="21.6">57,2 cm</text>
<text x="286.00" y="727.50" font-size="21.6">60 cm</text>
<text x="381.50" y="692.50" font-size="21.6">80 cm</text>
<text x="455.10" y="654.50" font-size="21.6">20 cm</text>
<text x="531.50" y="675.00" font-size="21.6">60 cm</text>
<text x="621.00" y="705.00" font-size="21.6">60 cm</text>
<text x="716.00" y="737.00" font-size="21.6">40 cm</text>
<text x="830.00" y="727.00" font-size="21.6">46 cm</text>
<text x="876.00" y="579.50" font-size="21.6">71,6 cm</text>
<text x="877.50" y="666.25" font-size="21.0">10 cm</text>
<text x="649.10" y="585.50" font-size="21.6">57,2 cm</text>
<text x="433.50" y="561.25" font-size="21.6">46 cm</text>
<text x="364.10" y="397.50" font-size="21.6">86 cm</text>
<text x="510.50" y="382.00" font-size="21.6">46 cm</text>
<text x="454.10" y="735.00" font-size="22.6">51 cm</text>
<text x="552.40" y="842.80" font-size="22.6">71,6 cm</text>
<text x="450.40" y="890.40" font-size="22.6">44 cm</text>
<text x="557.00" y="939.20" font-size="22.0">10 cm</text>
<text x="446.20" y="974.50" font-size="22.6">46 cm</text>
</svg>
</body></html>
